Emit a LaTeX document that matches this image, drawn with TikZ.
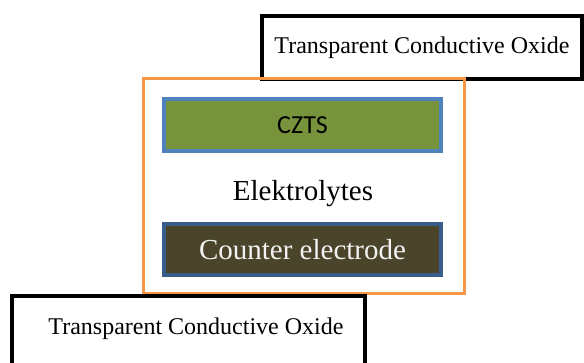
\documentclass[tikz,border=0pt]{standalone}
\usepackage{fontspec}
\setmainfont{Liberation Serif}
\newfontfamily\czfont{Carlito}
\usepackage{xcolor}
\usepackage{tikz}

\definecolor{cellorange}{HTML}{F79646}
\definecolor{layerblue}{HTML}{4F81BD}
\definecolor{czgreen}{HTML}{77933C}
\definecolor{cedark}{HTML}{4A452A}
\definecolor{ceblue}{HTML}{385D8A}

\tikzset{
  tco/.style={draw=black, line width=4pt, fill=white, inner sep=0pt},
  tcotext/.style={font=\fontsize{24}{28}\selectfont},
  cell/.style={draw=cellorange, line width=3pt, inner sep=0pt},
  layer/.style={line width=4pt, inner sep=0pt, minimum width=277pt},
}

\begin{document}
\begin{tikzpicture}[x=1pt,y=-1pt]
\useasboundingbox (0,0) rectangle (584,363);
\clip (0,0) rectangle (584,363);

\node[tco, tcotext, minimum width=320pt, minimum height=63pt] (tcotop) at (422,47.5) {Transparent Conductive Oxide};

\node[cell, minimum width=321pt, minimum height=215pt] (cell) at (303.5,186.5) {};

\node[layer, draw=layerblue, fill=czgreen, minimum height=52pt, font=\czfont\fontsize{26}{30}\selectfont] (czts) at (302.5,125.5) {CZTS};
\node[font=\fontsize{29}{34}\selectfont] (elyte) at (303,194) {Elektrolytes};
\node[layer, draw=ceblue, fill=cedark, text=white!95!black, minimum height=51pt, font=\fontsize{29}{34}\selectfont] (counter) at (302.5,249.5) {Counter electrode};

\node[tco, minimum width=353pt, minimum height=90pt] (tcobot) at (188.5,341) {};
\node[tcotext] (tcobottext) at (196,328.5) {Transparent Conductive Oxide};
\end{tikzpicture}
\end{document}
